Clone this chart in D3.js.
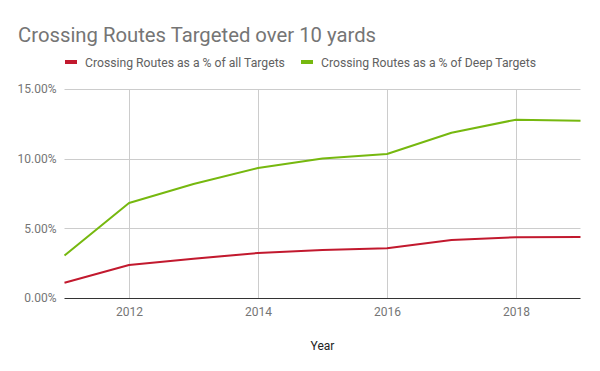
<!DOCTYPE html>
<html><head><meta charset="utf-8">
<script src="https://cdn.jsdelivr.net/npm/d3@7"></script>
<style>body{margin:0;background:#fff}svg{display:block}text{font-family:Roboto,sans-serif}</style>
</head><body>
<svg id="c" width="600" height="371"></svg>
<script>
const years = [2011,2012,2013,2014,2015,2016,2017,2018,2019];
const allTargets = [1.10,2.37,2.82,3.23,3.45,3.57,4.16,4.36,4.38];
const deepTargets = [3.05,6.82,8.18,9.33,10.02,10.34,11.86,12.80,12.73];
const seriesNames = ["Crossing Routes as a % of all Targets","Crossing Routes as a % of Deep Targets"];
const colors = ["#c2192e","#76b80f"];
const xTicks = [2012,2014,2016,2018];
const yTicks = [0,5,10,15];

const svg = d3.select("#c");
const x = d3.scaleLinear().domain([2011,2019]).range([64.5,580.5]);
const y = d3.scaleLinear().domain([0,15]).range([298,89]);

svg.append("text").attr("x",18).attr("y",42).attr("font-size",20.3).attr("fill","#757575").text("Crossing Routes Targeted over 10 yards");

// gridlines
svg.append("g").selectAll("line").data(yTicks.filter(d=>d>0)).join("line")
  .attr("x1",x(2011)).attr("x2",x(2019)).attr("y1",d=>Math.round(y(d))+0.5).attr("y2",d=>Math.round(y(d))+0.5)
  .attr("stroke","#cccccc");
svg.append("g").selectAll("line").data(xTicks).join("line")
  .attr("x1",d=>Math.round(x(d))+0.5).attr("x2",d=>Math.round(x(d))+0.5).attr("y1",y(15)).attr("y2",y(0))
  .attr("stroke","#cccccc");

// y axis labels
const ya = svg.append("g").attr("transform",`translate(${x(2011)},0)`)
  .call(d3.axisLeft(y).tickValues(yTicks).tickSize(0).tickPadding(8).tickFormat(d=>d.toFixed(2)+"%"));
ya.select(".domain").remove();
ya.selectAll("text").attr("font-size",12).attr("fill","#757575").attr("font-family","Roboto,sans-serif");

// x axis
const xa = svg.append("g").attr("transform",`translate(0,${y(0)})`)
  .call(d3.axisBottom(x).tickValues(xTicks).tickSize(0).tickPadding(9).tickFormat(d3.format("d")));
xa.select(".domain").remove();
xa.selectAll("text").attr("font-size",12).attr("fill","#757575").attr("font-family","Roboto,sans-serif");
svg.append("line").attr("x1",x(2011)).attr("x2",x(2019)).attr("y1",298.5).attr("y2",298.5).attr("stroke","#333333");

svg.append("text").attr("x",(x(2011)+x(2019))/2).attr("y",350).attr("text-anchor","middle")
  .attr("font-size",12).attr("fill","#222").text("Year");

const line = d3.line().x((d,i)=>x(years[i])).y(d=>y(d));
[allTargets,deepTargets].forEach((s,i)=>{
  svg.append("path").datum(s).attr("d",line).attr("fill","none").attr("stroke",colors[i]).attr("stroke-width",2).attr("stroke-linejoin","round");
});

// legend
const lg = [{x:65,tx:85},{x:301,tx:321}];
seriesNames.forEach((n,i)=>{
  svg.append("rect").attr("x",lg[i].x).attr("y",60).attr("width",12).attr("height",4).attr("fill",colors[i]);
  svg.append("text").attr("x",lg[i].tx).attr("y",66.5).attr("font-size",12.2).attr("fill","#616161").text(n);
});
</script>
</body></html>
